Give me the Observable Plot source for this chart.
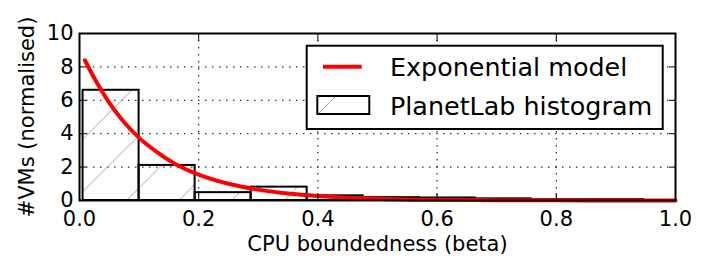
<!DOCTYPE html>
<html><head><meta charset="utf-8">
<script src="https://cdn.jsdelivr.net/npm/d3@7"></script>
<script src="https://cdn.jsdelivr.net/npm/@observablehq/plot@0.6"></script>
<style>body{margin:0;background:#fff} svg{display:block}</style>
</head><body><div id="chart"></div>
<script>
// Histogram bins (PlanetLab)
const binStarts  = [0.006, 0.100, 0.194, 0.288, 0.382, 0.476, 0.570, 0.664, 0.758, 0.852];
const binEnds    = [0.100, 0.194, 0.288, 0.382, 0.476, 0.570, 0.664, 0.758, 0.852, 0.946];
const binHeights = [6.6, 2.1, 0.47, 0.8, 0.28, 0.17, 0.15, 0.10, 0.05, 0.05];
// Exponential model curve
const modelX = [0.009, 0.03, 0.05, 0.07, 0.10, 0.13, 0.16, 0.20, 0.25, 0.30, 0.35, 0.40, 0.50, 0.60, 0.70, 0.80, 0.90, 1.00];
const modelY = [8.4, 7.0, 5.85, 4.9, 3.75, 2.9, 2.2, 1.55, 1.0, 0.65, 0.42, 0.27, 0.11, 0.045, 0.02, 0.008, 0.003, 0.001];
const xTicks = [0, 0.2, 0.4, 0.6, 0.8, 1.0];
const yTicks = [0, 2, 4, 6, 8, 10];
const xLabel = "CPU boundedness (beta)";
const yLabel = "#VMs (normalised)";
const legendLabels = ["Exponential model", "PlanetLab histogram"];

const bins = binStarts.map((s, i) => ({x1: s, x2: binEnds[i], y: binHeights[i]}));
const model = modelX.map((x, i) => ({x, y: modelY[i]}));
const font = "DejaVu Sans";
const grid = {stroke: "black", strokeOpacity: 1, strokeWidth: 1, strokeDasharray: "1.5,5.5"};

const plot = Plot.plot({
  width: 706, height: 277,
  marginLeft: 79, marginRight: 31, marginTop: 33, marginBottom: 77,
  style: {fontFamily: font, fontSize: "21px", background: "white", color: "black"},
  x: {domain: [0, 1]},
  y: {domain: [0, 10]},
  marks: [
    Plot.gridX(xTicks.slice(1, -1), grid),
    Plot.gridY(yTicks.slice(1, -1), grid),
    Plot.rectY(bins, {x1: "x1", x2: "x2", y: "y", fill: "url(#hatch)", stroke: "black", strokeWidth: 2}),
    Plot.line(model, {x: "x", y: "y", stroke: "red", strokeWidth: 4, curve: "monotone-x"}),
    Plot.frame({stroke: "black", strokeWidth: 2}),
    Plot.axisX(xTicks, {anchor: "bottom", tickSize: 0, tickPadding: 11, tickFormat: d => d.toFixed(1), label: null, fontSize: 21}),
    Plot.axisX(xTicks, {anchor: "bottom", tickSize: 7, dy: -7, tickFormat: () => "", label: null}),
    Plot.axisX(xTicks, {anchor: "top", tickSize: 7, dy: 7, tickFormat: () => "", label: null}),
    Plot.axisY(yTicks, {anchor: "left", tickSize: 0, tickPadding: 6, tickFormat: d => String(d), label: null, fontSize: 21}),
    Plot.axisY(yTicks, {anchor: "left", tickSize: 7, dx: 7, tickFormat: () => "", label: null}),
    Plot.axisY(yTicks, {anchor: "right", tickSize: 7, dx: -7, tickFormat: () => "", label: null}),
    Plot.text([xLabel], {text: d => d, frameAnchor: "bottom", dy: 50, fontSize: 21, fill: "black"}),
    Plot.text([yLabel], {text: d => d, frameAnchor: "left", textAnchor: "middle", dx: -52, rotate: -90, fontSize: 21, fill: "black"})
  ]
});

const svg = d3.select(plot);
const defs = svg.insert("defs", ":first-child");
const pat = defs.append("pattern").attr("id", "hatch")
  .attr("patternUnits", "userSpaceOnUse").attr("width", 52.5).attr("height", 52.5)
  .attr("patternTransform", "translate(12,0)");
pat.append("line").attr("x1", -5).attr("y1", 57.5).attr("x2", 57.5).attr("y2", -5)
  .attr("stroke", "#999").attr("stroke-width", 0.9);

// Legend
const lg = svg.append("g").attr("font-family", font).attr("text-anchor", "start");
lg.append("rect").attr("x", 306.7).attr("y", 45.7).attr("width", 356).attr("height", 83.3)
  .attr("fill", "white").attr("stroke", "black").attr("stroke-width", 2);
lg.append("line").attr("x1", 323).attr("x2", 361.7).attr("y1", 66.7).attr("y2", 66.7)
  .attr("stroke", "red").attr("stroke-width", 4);
lg.append("rect").attr("x", 317.3).attr("y", 96).attr("width", 52).attr("height", 18)
  .attr("fill", "url(#hatch)").attr("stroke", "black").attr("stroke-width", 2);
lg.append("text").attr("x", 390).attr("y", 76).attr("font-size", 25.4).attr("text-anchor", "start").attr("fill", "black").text(legendLabels[0]);
lg.append("text").attr("x", 390).attr("y", 114.5).attr("font-size", 25.4).attr("text-anchor", "start").attr("fill", "black").text(legendLabels[1]);

document.getElementById("chart").appendChild(plot);
</script>
</body></html>
